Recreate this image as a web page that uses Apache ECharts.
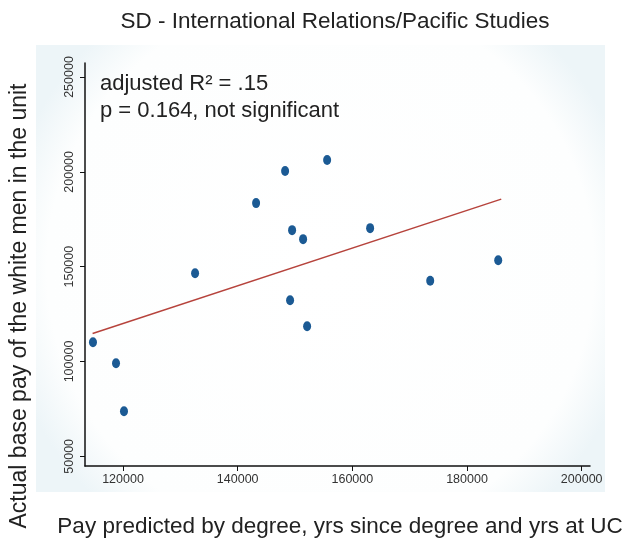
<!DOCTYPE html>
<html><head><meta charset="utf-8">
<script src="https://cdn.jsdelivr.net/npm/echarts@6/dist/echarts.min.js"></script>
<style>html,body{margin:0;padding:0;background:#fff}#c{width:625px;height:540px}</style>
</head><body><div id="c"></div>
<script>
const predictedPay = [114760,118780,120170,132570,143210,148270,155600,149490,151410,149140,152110,163100,173580,185440];
const actualPay    = [110160, 99080, 73750,146570,183510,200400,206200,169260,164510,132320,118600,170320,142600,153430];
const fitX = [114700, 185970];
const fitY = [114750, 185620];
const xTicks = [120000,140000,160000,180000,200000];
const yTicks = [50000,100000,150000,200000,250000];
const titleText = 'SD - International Relations/Pacific Studies';
const xName = 'Pay predicted by degree, yrs since degree and yrs at UC';
const yName = 'Actual base pay of the white men in the unit';
const note1 = 'adjusted R\u00b2 = .15';
const note2 = 'p = 0.164, not significant';

const chart = echarts.init(document.getElementById('c'), null, {renderer:'canvas'});
const F = '"Liberation Sans", Arial, sans-serif';
chart.setOption({
  backgroundColor:'#fff',
  animation:false,
  graphic:[
    {type:'rect', z:-10, shape:{x:36,y:45,width:569,height:447},
     style:{fill:{type:'radial',x:0.5,y:0.5,r:0.72,colorStops:[{offset:0,color:'#ffffff'},{offset:0.85,color:'#fdfefe'},{offset:1,color:'#edf5f8'}]}}},
    {type:'text', x:335, y:22, style:{text:titleText, font:'22.5px '+F, fill:'#222', textAlign:'center', textVerticalAlign:'middle'}},
    {type:'text', x:340, y:527, style:{text:xName, font:'22.5px '+F, fill:'#222', textAlign:'center', textVerticalAlign:'middle'}},
    {type:'text', x:20, y:306, rotation:Math.PI/2, style:{text:yName, font:'23px '+F, fill:'#222', textAlign:'center', textVerticalAlign:'middle'}},
    {type:'text', x:100, y:73, style:{text:note1, font:'22px '+F, fill:'#222'}},
    {type:'text', x:100, y:100, style:{text:note2, font:'22px '+F, fill:'#222'}}
  ],
  grid:{left:85,right:35,top:63,bottom:74},
  xAxis:{type:'value', min:113370, max:201450,
    axisLine:{show:true,onZero:false,lineStyle:{color:'#111',width:1.5}},
    axisTick:{show:true,length:5,lineStyle:{color:'#111'},customValues:xTicks},
    axisLabel:{fontSize:12.5,fontFamily:'Liberation Sans',color:'#333',margin:7,customValues:xTicks,formatter:v=>String(v)},
    splitLine:{show:false}},
  yAxis:{type:'value', min:44900, max:257390,
    axisLine:{show:true,onZero:false,lineStyle:{color:'#111',width:1.5}},
    axisTick:{show:true,length:5,lineStyle:{color:'#111'},customValues:yTicks},
    axisLabel:{fontSize:12.5,fontFamily:'Liberation Sans',color:'#333',rotate:90,margin:9,customValues:yTicks,formatter:v=>String(v)},
    splitLine:{show:false}},
  series:[
    {type:'line', data:fitX.map((x,i)=>[x,fitY[i]]), symbol:'none',
     lineStyle:{color:'#b6433c',width:1.5}, z:2},
    {type:'scatter', data:predictedPay.map((x,i)=>[x,actualPay[i]]),
     symbol:'circle', symbolSize:[8,10], itemStyle:{color:'#1b5a94',opacity:1}, z:3}
  ]
});
</script></body></html>
